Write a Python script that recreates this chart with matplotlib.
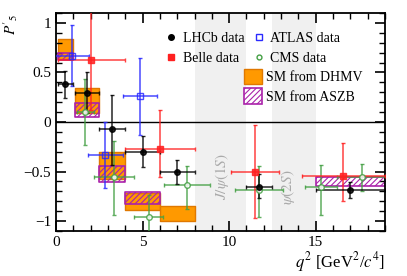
import matplotlib
matplotlib.use("Agg")
import matplotlib.pyplot as plt
import numpy as np
from matplotlib.patches import Patch
from matplotlib.lines import Line2D
from matplotlib.ticker import MultipleLocator

plt.rcParams['font.family'] = ['Liberation Serif', 'DejaVu Serif']
plt.rcParams['mathtext.fontset'] = 'stix'
plt.rcParams['hatch.linewidth'] = 0.8

# LHCb data
lhcb_x = [0.54, 1.8, 3.25, 5.0, 7.0, 11.75, 17.0]
lhcb_xerr = [0.44, 0.7, 0.75, 1.0, 1.0, 0.75, 2.0]
lhcb_y = [0.387, 0.289, -0.066, -0.300, -0.505, -0.655, -0.684]
lhcb_up = [0.132, 0.220, 0.343, 0.158, 0.124, 0.133, 0.074]
lhcb_dn = [0.142, 0.202, 0.364, 0.159, 0.122, 0.116, 0.078]

# Belle data
belle_x = [2.05, 6.0, 11.5, 16.6]
belle_xerr = [1.95, 2.0, 1.4, 2.4]
belle_y = [0.63, -0.27, -0.50, -0.545]
belle_up = [0.60, 0.39, 0.47, 0.33]
belle_dn = [0.51, 0.28, 0.47, 0.25]

# ATLAS data
atlas_x = [0.95, 2.85, 4.85]
atlas_xerr = [0.98, 1.0, 1.0]
atlas_y = [0.67, -0.33, 0.26]
atlas_up = [0.31, 0.33, 0.39]
atlas_dn = [0.31, 0.34, 0.39]

# CMS data
cms_x = [1.7, 3.35, 5.35, 7.55, 11.7, 15.3, 17.7]
cms_xerr = [0.5, 1.15, 0.85, 1.34, 1.385, 0.91, 1.5]
cms_y = [0.105, -0.555, -0.955, -0.64, -0.69, -0.66, -0.56]
cms_up = [0.33, 0.36, 0.22, 0.20, 0.25, 0.23, 0.14]
cms_dn = [0.34, 0.38, 0.26, 0.24, 0.27, 0.28, 0.14]

# SM predictions (bin edges, band low/high)
dhmv_q_lo = [0.1, 1.1, 2.5, 4.0, 6.0]
dhmv_q_hi = [1.0, 2.5, 4.0, 6.0, 8.0]
dhmv_lo = [0.64, 0.09, -0.58, -0.89, -1.00]
dhmv_hi = [0.84, 0.34, -0.30, -0.72, -0.85]

aszb_q_lo = [0.1, 1.1, 2.5, 4.0, 15.0]
aszb_q_hi = [1.0, 2.5, 4.0, 6.0, 19.0]
aszb_lo = [0.63, 0.05, -0.61, -0.83, -0.645]
aszb_hi = [0.70, 0.19, -0.44, -0.71, -0.555]

vetoes = [(8.0, 11.0), (12.5, 15.0)]

fig = plt.figure(figsize=(4.07, 2.76), dpi=100)
ax = fig.add_axes([56 / 407, 1 - 231 / 276, 329 / 407, 218 / 276])

for a, b in vetoes:
    ax.axvspan(a, b, color='#f0f0f0', lw=0, zorder=0)
ax.text(9.6, -0.55, r'$J/\psi(1S)$', rotation=90, color='#aaaaaa',
        ha='center', va='center', fontsize=11)
ax.text(13.4, -0.66, r'$\psi(2S)$', rotation=90, color='#aaaaaa',
        ha='center', va='center', fontsize=11)

for q0, q1, lo, hi in zip(dhmv_q_lo, dhmv_q_hi, dhmv_lo, dhmv_hi):
    ax.fill_between([q0, q1], lo, hi, facecolor='#ff9900', edgecolor='#e07800',
                    lw=1.0, zorder=1)
for q0, q1, lo, hi in zip(aszb_q_lo, aszb_q_hi, aszb_lo, aszb_hi):
    ax.fill_between([q0, q1], lo, hi, facecolor='none', edgecolor='#aa22aa',
                    hatch='//////', lw=1.2, zorder=2)

ax.axhline(0, color='black', lw=1.0, zorder=2)

ekw = dict(ls='none', capsize=1.5, elinewidth=1.1, capthick=1.0, zorder=3)
ax.errorbar(cms_x, cms_y, xerr=cms_xerr, yerr=[cms_dn, cms_up], color='#44a044',
            marker='o', ms=4, mfc='white', mec='#44a044', alpha=0.85, **ekw)
ax.errorbar(atlas_x, atlas_y, xerr=atlas_xerr, yerr=[atlas_dn, atlas_up],
            color='#2a2aff', marker='s', ms=4, mfc='none', mec='#2a2aff', alpha=0.85, **ekw)
ax.errorbar(belle_x, belle_y, xerr=belle_xerr, yerr=[belle_dn, belle_up],
            color='#ff2020', marker='s', ms=4.5, alpha=0.85, **ekw)
ax.errorbar(lhcb_x, lhcb_y, xerr=lhcb_xerr, yerr=[lhcb_dn, lhcb_up],
            color='black', marker='o', ms=4, alpha=0.85, **ekw)

ax.set_xlim(0, 19)
ax.set_ylim(-1.1, 1.1)
ax.xaxis.set_major_locator(MultipleLocator(5))
ax.xaxis.set_minor_locator(MultipleLocator(1))
ax.yaxis.set_major_locator(MultipleLocator(0.5))
ax.yaxis.set_minor_locator(MultipleLocator(0.1))
ax.tick_params(which='both', direction='in', top=True, right=True, labelsize=11)
ax.tick_params(which='major', length=7, width=1.2)
ax.tick_params(which='minor', length=4, width=1.0)
for s in ax.spines.values():
    s.set_linewidth(1.3)
ax.yaxis.set_major_formatter(plt.FuncFormatter(
    lambda v, p: '0' if abs(v) < 1e-9 else ('%g' % v).replace('-', '\u2212')))

ax.set_xlabel(r'$q^2$ [GeV$^2$/$c^4$]', loc='right', fontsize=12, labelpad=1)
# y label placed by hand at the top-left, as in the original
ax.text(-0.138, 1.0, r"$P'_5$", transform=ax.transAxes, rotation=90,
        ha='center', va='top', fontsize=11)

h_data = [
    Line2D([], [], ls='none', marker='o', ms=4, color='black'),
    Line2D([], [], ls='none', marker='s', ms=4, color='#ff2020'),
    Line2D([], [], ls='none', marker='s', ms=4, mfc='none', mec='#2a2aff'),
    Line2D([], [], ls='none', marker='o', ms=3.5, mfc='none', mec='#44a044'),
]
l1 = ax.legend(h_data, ['LHCb data', 'Belle data', 'ATLAS data', 'CMS data'],
               ncol=2, loc='upper left', bbox_to_anchor=(0.313, 0.945),
               frameon=False, fontsize=10, handlelength=0.8, handletextpad=0.4,
               columnspacing=0.65, labelspacing=0.5, borderpad=0)
ax.add_artist(l1)
h_sm = [
    Patch(facecolor='#ff9900', edgecolor='#e07800', lw=1.0),
    Patch(facecolor='white', edgecolor='#aa22aa', hatch='//////', lw=1.2),
]
ax.legend(h_sm, ['SM from DHMV', 'SM from ASZB'], loc='upper left',
          bbox_to_anchor=(0.549, 0.775), frameon=False, fontsize=10,
          handlelength=1.3, handleheight=1.3, handletextpad=0.3,
          labelspacing=0.3, borderpad=0)

fig.savefig('out.png', dpi=100)
